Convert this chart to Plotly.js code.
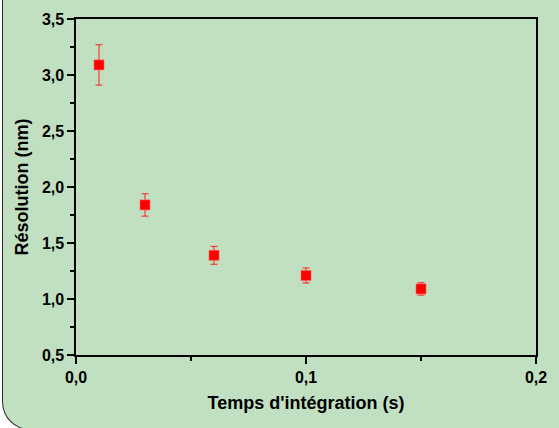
<!DOCTYPE html>
<html>
<head>
<meta charset="utf-8">
<script src="https://cdn.plot.ly/plotly-3.0.1.min.js"></script>
<style>
html,body{margin:0;padding:0;background:#ffffff;overflow:hidden;}
#wrap{position:relative;width:559px;height:428px;overflow:hidden;}
#panel{position:absolute;left:2px;top:-20px;width:640px;height:449px;
  background:rgb(193,223,193);border-left:1px solid #2a2a2a;border-bottom:1px solid #2a2a2a;
  border-bottom-left-radius:28px;}
#chart{position:absolute;left:0;top:0;width:559px;height:428px;}
</style>
</head>
<body>
<div id="wrap"><div id="panel"></div><div id="chart"></div></div>
<script>
// Data
const integrationTime = [0.01, 0.03, 0.06, 0.10, 0.15];      // s
const resolution      = [3.09, 1.84, 1.39, 1.21, 1.09];      // nm
const resolutionErr   = [0.18, 0.10, 0.08, 0.067, 0.055];    // nm
const xTickVals = [0, 0.1, 0.2];
const yTickVals = [0.5, 1.0, 1.5, 2.0, 2.5, 3.0, 3.5];

const W = 559, H = 428;
const fnt = '"Liberation Sans", Arial, Helvetica, sans-serif';

const trace = {
  x: integrationTime,
  y: resolution,
  type: 'scatter',
  mode: 'markers',
  marker: {symbol: 'square', size: 10, color: '#ff0000',
           line: {color: 'rgba(255,90,90,1)', width: 0.6}},
  error_y: {type: 'data', array: resolutionErr, visible: true,
            color: '#ff2020', thickness: 1, width: 3.5},
  showlegend: false,
  hoverinfo: 'x+y'
};

const tickFont = {family: fnt, size: 16, color: '#000', weight: 700};

const layout = {
  width: W, height: H,
  margin: {l: 76, r: 23, t: 19, b: 73},
  paper_bgcolor: 'rgba(0,0,0,0)',
  plot_bgcolor: 'rgba(0,0,0,0)',
  separators: ', ',
  font: {family: fnt, color: '#000000'},
  xaxis: {
    range: [0, 0.2],
    tickvals: xTickVals,
    tickformat: '.1f',
    ticks: 'outside', ticklen: 7, tickwidth: 1.3, tickcolor: '#000',
    minor: {dtick: 0.05, tick0: 0, ticks: 'outside', ticklen: 4, tickwidth: 1.3, tickcolor: '#000', showgrid: false},
    showline: true, linecolor: '#000', linewidth: 1.6, mirror: true,
    showgrid: false, zeroline: false,
    tickfont: tickFont,
    title: {text: "Temps d'intégration (s)", font: {family: fnt, size: 18, color: '#000', weight: 700}, standoff: 11},
    automargin: false
  },
  yaxis: {
    range: [0.5, 3.5],
    tickvals: yTickVals,
    tickformat: '.1f',
    ticks: 'outside', ticklen: 7, tickwidth: 1.3, tickcolor: '#000',
    minor: {dtick: 0.25, tick0: 0.5, ticks: 'outside', ticklen: 4, tickwidth: 1.3, tickcolor: '#000', showgrid: false},
    showline: true, linecolor: '#000', linewidth: 1.6, mirror: true,
    showgrid: false, zeroline: false,
    tickfont: tickFont,
    title: {text: 'Résolution (nm)', font: {family: fnt, size: 18, color: '#000', weight: 700}, standoff: 8},
    automargin: false
  }
};

Plotly.newPlot('chart', [trace], layout, {displayModeBar: false, staticPlot: true});
</script>
</body>
</html>
